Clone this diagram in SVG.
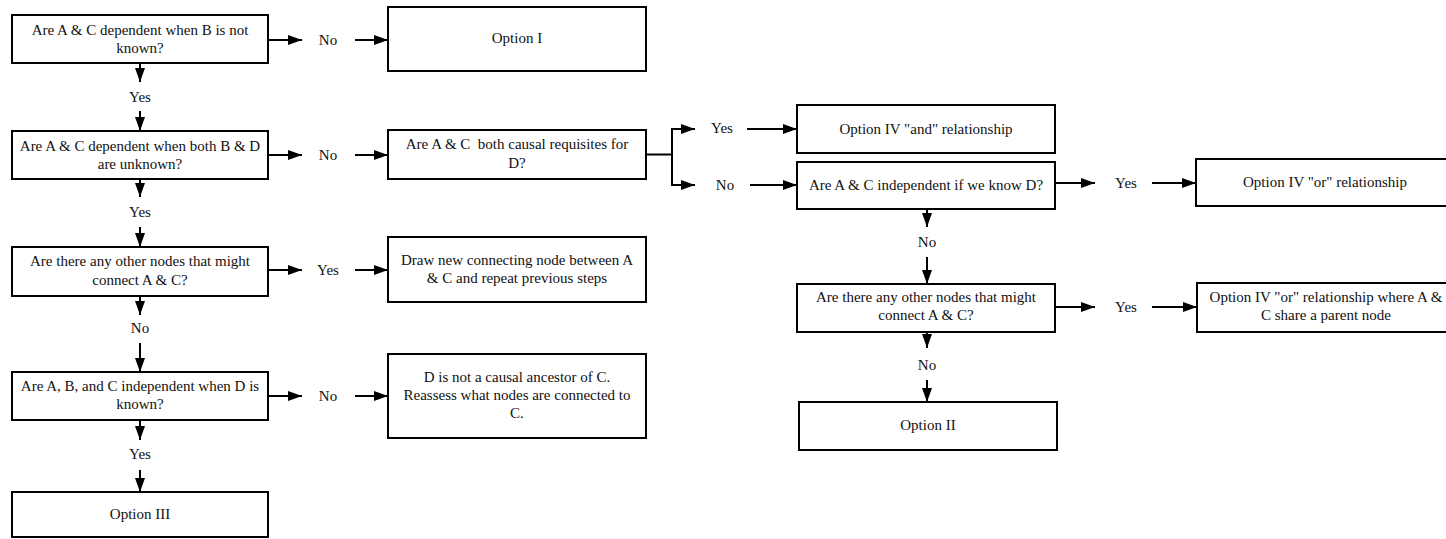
<svg xmlns="http://www.w3.org/2000/svg" width="1446" height="539" viewBox="0 0 1446 539" font-family="'Liberation Serif', 'Times New Roman', 'DejaVu Serif', serif">
<defs>
<marker id="ah" markerUnits="userSpaceOnUse" markerWidth="14" markerHeight="10" refX="14" refY="5" orient="auto" viewBox="0 0 14 10">
<path d="M0,0 L14,5 L0,10 z" fill="#000"/>
</marker>
<style>
rect.box{fill:#fff;stroke:#000;stroke-width:2}
text{font-family:'Liberation Serif','Times New Roman','DejaVu Serif',serif;font-size:15px;fill:#111;text-anchor:middle}
#connectors path{fill:none;stroke:#000;stroke-width:2;marker-end:url(#ah)}
</style>
</defs>
<rect width="1446" height="539" fill="#fff"/>

<g id="connectors">
<path d="M268,40 H302"/><path d="M355,40 H388"/>
<path d="M268,155 H302"/><path d="M355,155 H388"/>
<path d="M268,270 H302"/><path d="M355,270 H388"/>
<path d="M268,396 H302"/><path d="M355,396 H388"/>
<path d="M140,63 V82"/><path d="M140,111 V131"/>
<path d="M140,179 V197"/><path d="M140,227 V247"/>
<path d="M140,296 V315"/><path d="M140,343 V372"/>
<path d="M140,420 V440"/><path d="M140,470 V492"/>
<path d="M646,154.5 H672 V129 H695"/>
<path d="M672,154.5 V185 H695"/>
<path d="M747,129 H797"/><path d="M750,185 H797"/>
<path d="M1055,183 H1095"/><path d="M1152,183 H1196"/>
<path d="M927,209 V227"/><path d="M927,257 V284"/>
<path d="M927,332 V348"/><path d="M927,380 V402"/>
<path d="M1055,307 H1095"/><path d="M1152,307 H1197"/>
</g>

<g id="labels">
<text x="328" y="45">No</text>
<text x="328" y="160">No</text>
<text x="328" y="275">Yes</text>
<text x="328" y="401">No</text>
<text x="140" y="102">Yes</text>
<text x="140" y="216.5">Yes</text>
<text x="140" y="333">No</text>
<text x="140" y="459">Yes</text>
<text x="722" y="133">Yes</text>
<text x="725" y="190">No</text>
<text x="927" y="246.5">No</text>
<text x="927" y="370">No</text>
<text x="1126" y="188">Yes</text>
<text x="1126" y="312">Yes</text>
</g>

<g id="q1"><rect class="box" x="12" y="15" width="256" height="48"/>
<text x="140" y="35">Are A &amp; C dependent when B is not</text><text x="140" y="53">known?</text></g>
<g id="q2"><rect class="box" x="12" y="131" width="256" height="48"/>
<text x="140" y="151">Are A &amp; C dependent when both B &amp; D</text><text x="140" y="169">are unknown?</text></g>
<g id="q3"><rect class="box" x="12" y="247" width="256" height="49"/>
<text x="140" y="266">Are there any other nodes that might</text><text x="140" y="284.5">connect A &amp; C?</text></g>
<g id="q4"><rect class="box" x="12" y="372" width="256" height="48"/>
<text x="140" y="391">Are A, B, and C independent when D is</text><text x="140" y="409">known?</text></g>
<g id="opt3"><rect class="box" x="12" y="492" width="256" height="45"/>
<text x="140" y="519">Option III</text></g>

<g id="opt1"><rect class="box" x="388" y="7" width="258" height="64"/>
<text x="517" y="42.5">Option I</text></g>
<g id="causal"><rect class="box" x="388" y="130" width="258" height="49"/>
<text x="517" y="149" style="white-space:pre">Are A &amp; C  both causal requisites for</text><text x="517" y="168">D?</text></g>
<g id="draw"><rect class="box" x="388" y="237" width="258" height="65"/>
<text x="517" y="265">Draw new connecting node between A</text><text x="517" y="283">&amp; C and repeat previous steps</text></g>
<g id="dnot"><rect class="box" x="388" y="354" width="258" height="84"/>
<text x="517" y="382">D is not a causal ancestor of C.</text><text x="517" y="400">Reassess what nodes are connected to</text><text x="517" y="418">C.</text></g>

<g id="opt4and"><rect class="box" x="797" y="105" width="258" height="48"/>
<text x="926" y="134">Option IV "and" relationship</text></g>
<g id="indep"><rect class="box" x="797" y="162" width="258" height="47"/>
<text x="926" y="190">Are A &amp; C independent if we know D?</text></g>
<g id="q5"><rect class="box" x="797" y="284" width="258" height="48"/>
<text x="926" y="302">Are there any other nodes that might</text><text x="926" y="320">connect A &amp; C?</text></g>
<g id="opt2"><rect class="box" x="799" y="402" width="258" height="48"/>
<text x="928" y="430">Option II</text></g>

<g id="opt4or"><rect class="box" x="1196" y="159" width="258" height="47"/>
<text x="1325" y="187">Option IV "or" relationship</text></g>
<g id="opt4orp"><rect class="box" x="1197" y="283" width="258" height="49"/>
<text x="1326" y="302">Option IV "or" relationship where A &amp;</text><text x="1326" y="320">C share a parent node</text></g>
</svg>
